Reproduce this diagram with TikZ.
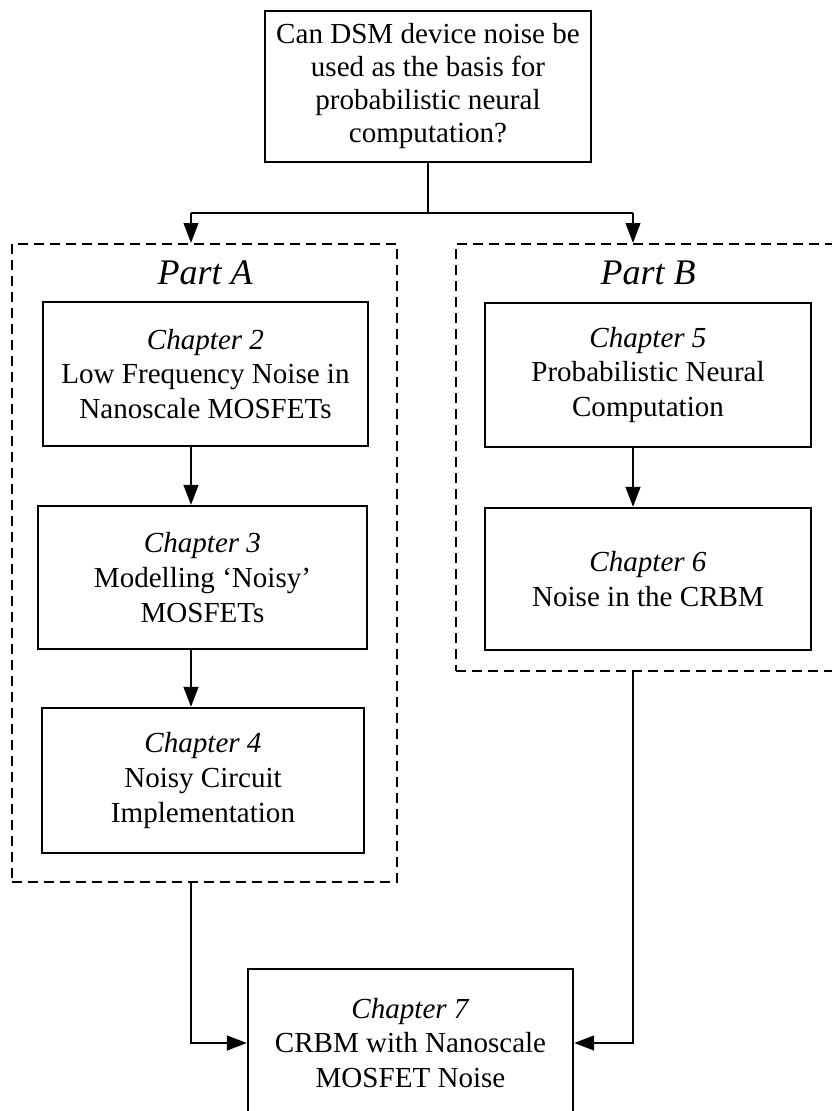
\documentclass[tikz,border=0pt]{standalone}
\usepackage{fontspec}
\setmainfont{Liberation Serif}
\usetikzlibrary{arrows.meta}
\begin{document}
\begin{tikzpicture}[x=0.75pt,y=-0.75pt,
  box/.style={draw, line width=1.7pt, align=center, inner sep=0pt,
    font=\fontsize{21.8}{26}\selectfont},
  partbox/.style={draw, dash pattern=on 7.5pt off 4.5pt, line width=1.5pt, inner sep=0pt},
  arr/.style={line width=1.7pt, -{Triangle[length=15pt,width=11pt]}},
  conn/.style={line width=1.7pt},
  plabel/.style={font=\fontsize{27}{30}\selectfont\itshape, inner sep=0pt}]
\path[use as bounding box, clip] (0,0) rectangle (832,1111);

% top question
\node[box, minimum width=244.5pt, minimum height=113.25pt,
  font=\fontsize{21.8}{24.75}\selectfont] (top) at (428,86.5)
  {Can DSM device noise be\\used as the basis for\\probabilistic neural\\computation?};

% part frames
\node[partbox, minimum width=288.75pt, minimum height=478.5pt] (pa) at (204.5,563) {};
\node[partbox, minimum width=288pt, minimum height=320.25pt] (pb) at (648,457.5) {};
\node[plabel] (la) at (205,273) {Part A};
\node[plabel] (lb) at (648,273) {Part B};

% chapters
\node[box, minimum width=243.75pt, minimum height=108pt] (ch2) at (205.5,374)
  {\textit{Chapter 2}\\Low Frequency Noise in\\Nanoscale MOSFETs};
\node[box, minimum width=246.75pt, minimum height=107.25pt] (ch3) at (202.5,577.5)
  {\textit{Chapter 3}\\Modelling `Noisy'\\MOSFETs};
\node[box, minimum width=241.5pt, minimum height=108.75pt] (ch4) at (203,780.5)
  {\textit{Chapter 4}\\Noisy Circuit\\Implementation};
\node[box, minimum width=244.5pt, minimum height=108pt] (ch5) at (648,375)
  {\textit{Chapter 5}\\Probabilistic Neural\\Computation};
\node[box, minimum width=244.5pt, minimum height=106.5pt] (ch6) at (648,579)
  {\textit{Chapter 6}\\Noise in the CRBM};
\node[box, minimum width=243.75pt, minimum height=111pt] (ch7) at (410.5,1043)
  {\textit{Chapter 7}\\CRBM with Nanoscale\\MOSFET Noise};

% connectors
\coordinate (j) at (428,213);
\coordinate (jl) at (191,213);
\coordinate (jr) at (633,213);
\draw[conn] (top.south) -- (j);
\draw[conn] (jl) -- (jr);
\draw[arr] (jl) -- (jl |- pa.north);
\draw[arr] (jr) -- (jr |- pb.north);
\draw[arr] (ch2.south -| jl) -- (ch3.north -| jl);
\draw[arr] (ch3.south -| jl) -- (ch4.north -| jl);
\draw[arr] (ch5.south -| jr) -- (ch6.north -| jr);
\draw[arr] (pa.south -| jl) |- (ch7.west);
\draw[arr] (pb.south -| jr) |- (ch7.east);
\end{tikzpicture}
\end{document}
